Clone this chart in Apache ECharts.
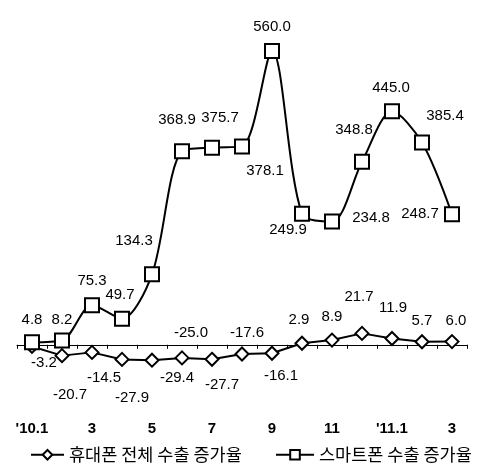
<!DOCTYPE html>
<html>
<head>
<meta charset="utf-8">
<script src="https://cdn.jsdelivr.net/npm/echarts@6/dist/echarts.min.js"></script>
<style>
  html, body { margin: 0; padding: 0; background: #fff; }
  #chart { width: 483px; height: 466px; }
</style>
</head>
<body>
<div id="chart"></div>
<script>
// Months from Jan 2010 to Mar 2011
const months = ["'10.1", "2", "3", "4", "5", "6", "7", "8", "9", "10", "11", "12", "'11.1", "2", "3"];

// Year-on-year export growth (%)
const phoneGrowth = [-3.2, -20.7, -14.5, -27.9, -29.4, -25.0, -27.7, -17.6, -16.1, 2.9, 8.9, 21.7, 11.9, 5.7, 6.0];
const smartGrowth = [4.8, 8.2, 75.3, 49.7, 134.3, 368.9, 375.7, 378.1, 560.0, 249.9, 234.8, 348.8, 445.0, 385.4, 248.7];

const seriesNames = ['휴대폰 전체 수출 증가율', '스마트폰 수출 증가율'];

// Value-label placement, as [dx, dy] from each marker's centre
const phoneLabelOffsets = [
  [12, 16], [8, 39], [12, 25], [10, 38], [25, 18], [9, -25], [10, 26], [5, -21],
  [9, 23], [-3, -23], [0, -23], [-3, -37], [1, -31], [0, -21], [4, -21]
];
const smartLabelOffsets = [
  [0, -22], [0, -21], [0, -24], [-2, -24], [-18, -33], [-5, -31], [8, -30], [23, 24],
  [0, -24], [-14, 16], [39, -4], [-8, -32], [-1, -23], [23, -27], [-32, 0]
];

const withLabels = (values, offsets) =>
  values.map((v, i) => ({ value: v, label: { offset: offsets[i] } }));

const labelFont = {
  show: true,
  position: 'inside',
  color: '#000',
  fontSize: 15,
  fontFamily: 'Liberation Sans, Arial, sans-serif',
  formatter: p => p.value.toFixed(1)
};

const legendText = { fontSize: 17.5, color: '#000', fontFamily: 'Noto Sans CJK KR' };

const chart = echarts.init(document.getElementById('chart'));
chart.setOption({
  animation: false,
  backgroundColor: '#fff',
  grid: { left: 17, top: 30, width: 450, height: 341 },
  legend: [
    {
      data: [seriesNames[0]], left: 25, top: 441,
      itemWidth: 33, itemHeight: 12, itemGap: 0,
      textStyle: legendText
    },
    {
      data: [seriesNames[1]], left: 270, top: 441,
      itemWidth: 38, itemHeight: 12, itemGap: 0,
      textStyle: legendText
    }
  ],
  xAxis: [
    {
      type: 'category',
      data: months,
      boundaryGap: true,
      axisLine: { onZero: true, lineStyle: { color: '#000', width: 1 } },
      axisTick: { show: true, interval: 0, length: 4, lineStyle: { color: '#000' } },
      axisLabel: { show: false },
      splitLine: { show: false }
    },
    {
      type: 'category',
      data: months,
      position: 'bottom',
      boundaryGap: true,
      axisLine: { show: false, onZero: false },
      axisTick: { show: false },
      splitLine: { show: false },
      axisLabel: {
        interval: 1,
        margin: 50,
        color: '#000',
        fontSize: 15,
        fontWeight: 'bold',
        fontFamily: 'Liberation Sans, Arial, sans-serif'
      }
    }
  ],
  yAxis: { type: 'value', min: -50, max: 600, show: false },
  series: [
    {
      name: seriesNames[0],
      type: 'line',
      xAxisIndex: 0,
      data: withLabels(phoneGrowth, phoneLabelOffsets),
      symbol: 'diamond',
      symbolSize: 13,
      lineStyle: { color: '#000', width: 2 },
      itemStyle: { color: '#fff', borderColor: '#000', borderWidth: 2 },
      label: labelFont,
      z: 2
    },
    {
      name: seriesNames[1],
      type: 'line',
      xAxisIndex: 0,
      data: withLabels(smartGrowth, smartLabelOffsets),
      symbol: 'rect',
      symbolSize: 14,
      smooth: 0.3,
      lineStyle: { color: '#000', width: 2 },
      itemStyle: { color: '#fff', borderColor: '#000', borderWidth: 2 },
      label: labelFont,
      z: 3
    }
  ]
});
</script>
</body>
</html>
